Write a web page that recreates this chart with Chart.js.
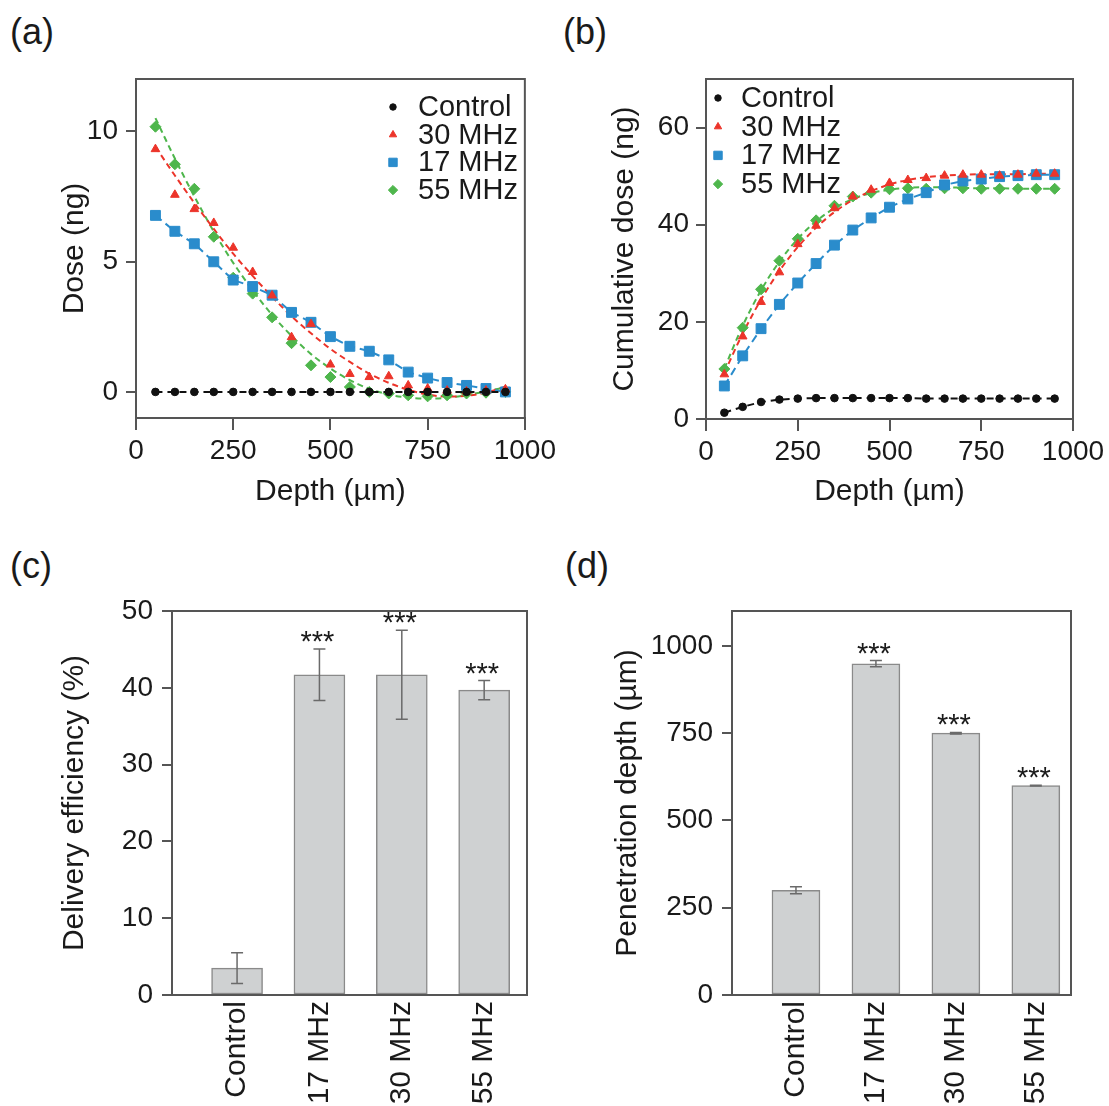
<!DOCTYPE html>
<html>
<head>
<meta charset="utf-8">
<script src="https://cdn.jsdelivr.net/npm/chart.js@4.4.1/dist/chart.umd.min.js"></script>
<style>
body { margin: 0; background: #fff; width: 1109px; height: 1106px; position: relative; overflow: hidden;
       font-family: "Liberation Sans", Arial, Helvetica, sans-serif; }
canvas { position: absolute; }
.lab { position: absolute; font-size: 36px; line-height: 1; color: #1a1a1a; }
</style>
</head>
<body>
<div class="lab" style="left:10px;top:14px">(a)</div>
<div class="lab" style="left:563px;top:14px">(b)</div>
<div class="lab" style="left:10px;top:548px">(c)</div>
<div class="lab" style="left:565px;top:548px">(d)</div>
<canvas id="cA" width="560" height="530" style="left:0;top:0"></canvas>
<canvas id="cB" width="549" height="530" style="left:560px;top:0"></canvas>
<canvas id="cC" width="560" height="566" style="left:0;top:540px"></canvas>
<canvas id="cD" width="549" height="566" style="left:560px;top:540px"></canvas>
<script>
// ---- data ----
const depth = [50, 100, 150, 200, 250, 300, 350, 400, 450, 500, 550, 600, 650, 700, 750, 800, 850, 900, 950];
const depthTicks = [0, 250, 500, 750, 1000];

// (a) dose per depth slice (ng)
const doseTicks = [0, 5, 10];
const doseControl = [0, 0, 0, 0, 0, 0, 0, 0, 0, 0, 0, 0, 0, 0, 0, 0, 0, 0, 0];
const dose30 = [9.31, 7.56, 7.01, 6.48, 5.53, 4.6, 3.7, 2.1, 2.6, 1.05, 0.69, 0.57, 0.6, 0.25, 0.13, 0.05, 0.02, 0.05, 0.1];
const dose17 = [6.77, 6.16, 5.68, 4.99, 4.29, 4.04, 3.71, 3.05, 2.67, 2.12, 1.75, 1.56, 1.23, 0.76, 0.53, 0.36, 0.25, 0.13, 0.0];
const dose55 = [10.17, 8.73, 7.79, 5.95, 4.38, 3.77, 2.86, 1.87, 1.02, 0.57, 0.19, 0.0, -0.06, -0.13, -0.17, -0.13, -0.06, -0.03, 0.0];
const doseFit30 = [9.4, 8.3, 7.25, 6.25, 5.3, 4.45, 3.65, 2.9, 2.25, 1.65, 1.15, 0.7, 0.35, 0.08, -0.1, -0.18, -0.15, -0.02, 0.2];
const doseFit55 = [10.5, 8.95, 7.5, 6.15, 4.95, 3.9, 2.95, 2.15, 1.45, 0.9, 0.45, 0.12, -0.1, -0.22, -0.26, -0.22, -0.12, 0.02, 0.18];

// (b) cumulative dose (ng)
const cumTicks = [0, 20, 40, 60];
const cumControl = [1.3, 2.5, 3.5, 4.0, 4.2, 4.3, 4.3, 4.3, 4.3, 4.3, 4.3, 4.2, 4.2, 4.2, 4.2, 4.2, 4.2, 4.2, 4.2];
const cum30 = [9.2, 17.0, 24.1, 30.2, 36.0, 39.8, 43.4, 45.8, 47.2, 48.6, 49.2, 49.6, 50.1, 50.3, 50.3, 50.1, 50.3, 50.5, 50.5];
const cum17 = [6.8, 13.0, 18.6, 23.6, 28.0, 32.0, 35.8, 38.9, 41.4, 43.6, 45.3, 46.6, 48.2, 49.0, 49.4, 49.9, 50.1, 50.3, 50.3];
const cum55 = [10.3, 18.8, 26.7, 32.6, 37.1, 40.9, 43.9, 45.8, 46.6, 47.3, 47.5, 47.4, 47.5, 47.5, 47.4, 47.4, 47.4, 47.4, 47.4];
const cumFit30 = [9.5, 17.6, 24.6, 30.5, 35.4, 39.4, 42.6, 45.1, 46.9, 48.3, 49.2, 49.8, 50.1, 50.3, 50.4, 50.4, 50.4, 50.5, 50.5];
const cumFit55 = [10.4, 19.2, 26.5, 32.4, 37.1, 40.7, 43.4, 45.3, 46.5, 47.2, 47.6, 47.7, 47.7, 47.6, 47.5, 47.5, 47.4, 47.4, 47.4];

// (c) and (d) bars
const groups = ["Control", "17 MHz", "30 MHz", "55 MHz"];
const effTicks = [0, 10, 20, 30, 40, 50];
const effMean = [3.5, 41.7, 41.7, 39.7];
const effErr = [2.0, 3.35, 5.8, 1.25];
const penTicks = [0, 250, 500, 750, 1000];
const penMean = [300, 949, 750, 600];
const penErr = [10, 9, 2, 1];
const signif = ["", "***", "***", "***"];

// ---- styling ----
const FONT = '"Liberation Sans", Arial, Helvetica, sans-serif';
const INK = "#1a1a1a";
const AXIS = "#555";
const RED = "rgb(236,52,42)";
const BLUE = "rgb(42,140,204)";
const GREEN = "rgb(78,182,76)";
const BLACK = "#111";

Chart.defaults.font.family = FONT;
Chart.defaults.color = INK;
Chart.defaults.animation = false;

function pts(ys) {
    return depth.map((d, i) => ({ x: d, y: ys[i] }));
}

// box around the plot area
const frame = {
    id: "frame",
    afterDraw(chart) {
        const a = chart.chartArea, ctx = chart.ctx;
        ctx.save();
        ctx.strokeStyle = AXIS;
        ctx.lineWidth = 2;
        ctx.strokeRect(a.left, a.top, a.right - a.left, a.bottom - a.top);
        ctx.restore();
    },
};

// legend drawn inside the plot
const inLegend = {
    id: "inLegend",
    afterDatasetsDraw(chart, args, opts) {
        if (!opts.items) return;
        const a = chart.chartArea, ctx = chart.ctx;
        ctx.save();
        ctx.font = "29px " + FONT;
        ctx.textBaseline = "middle";
        opts.items.forEach((it, i) => {
            const y = a.top + opts.top + i * opts.rowH;
            ctx.fillStyle = it.color;
            ctx.strokeStyle = it.color;
            Chart.helpers.drawPoint(ctx, { pointStyle: it.style, radius: it.r * 0.85, borderWidth: 1, rotation: 0 }, a.left + opts.markX, y);
            ctx.fillStyle = INK;
            ctx.fillText(it.label, a.left + opts.textX, y + 1);
        });
        ctx.restore();
    },
};

// error bars + significance stars for the bar panels
const errorBars = {
    id: "errorBars",
    afterDatasetsDraw(chart, args, opts) {
        if (!opts.err) return;
        const ctx = chart.ctx, xs = chart.scales.x, ys = chart.scales.y;
        const pts = chart.data.datasets[0].data;
        ctx.save();
        ctx.strokeStyle = "#6a6a6a";
        ctx.lineWidth = 1.5;
        ctx.fillStyle = INK;
        ctx.font = "29px " + FONT;
        ctx.textAlign = "center";
        ctx.textBaseline = "alphabetic";
        pts.forEach((p, i) => {
            const x = xs.getPixelForValue(p.x);
            const hi = ys.getPixelForValue(p.y + opts.err[i]);
            const lo = ys.getPixelForValue(p.y - opts.err[i]);
            ctx.beginPath();
            ctx.moveTo(x, hi); ctx.lineTo(x, lo);
            ctx.moveTo(x - 6, hi); ctx.lineTo(x + 6, hi);
            ctx.moveTo(x - 6, lo); ctx.lineTo(x + 6, lo);
            ctx.stroke();
            if (opts.sig[i]) ctx.fillText(opts.sig[i], x - 2, hi + 2);
        });
        ctx.restore();
    },
};

function axisOpts(o) {
    return {
        type: "linear",
        min: o.min,
        max: o.max,
        offset: false,
        afterBuildTicks: (s) => { s.ticks = o.ticks.map((v) => ({ value: v })); },
        afterFit: o.fit,
        grid: { drawOnChartArea: false, drawTicks: o.tickLen > 0, tickLength: o.tickLen, color: AXIS, lineWidth: 2, offset: false },
        border: { display: true, color: AXIS, width: 2 },
        ticks: Object.assign({ font: { size: o.tickSize }, padding: o.pad, color: INK, autoSkip: false,
            callback: (v) => String(v) }, o.tickExtra || {}),
        title: { display: true, text: o.title, font: { size: 30 }, color: INK, padding: o.titlePad },
    };
}

function lineSets(series) {
    const sets = [];
    series.forEach((s) => {
        sets.push({
            label: s.label,
            data: pts(s.values),
            showLine: !s.fit,
            borderDash: s.dash || [],
            borderWidth: 2,
            borderColor: s.color,
            backgroundColor: s.color,
            pointStyle: s.style,
            pointRadius: s.r,
            pointBorderWidth: 1,
            pointBorderColor: s.color,
            pointBackgroundColor: s.color,
        });
    });
    series.forEach((s) => {
        if (!s.fit) return;
        sets.push({
            label: s.label + " fit",
            data: pts(s.fit),
            showLine: true,
            pointRadius: 0,
            borderDash: [6, 4],
            borderWidth: 2,
            borderColor: s.color,
            cubicInterpolationMode: "monotone",
        });
    });
    return sets;
}

function lineChart(id, series, g) {
    return new Chart(document.getElementById(id), {
        type: "scatter",
        data: { datasets: lineSets(series) },
        options: {
            responsive: false,
            layout: { padding: { left: 0, top: g.top, right: g.right, bottom: 0 } },
            plugins: {
                legend: { display: false },
                tooltip: { enabled: false },
                inLegend: { items: series, markX: g.markX, textX: g.textX, top: g.legTop, rowH: g.rowH },
            },
            scales: {
                x: axisOpts({ min: 0, max: 1000, ticks: depthTicks, fit: (s) => { s.height = g.xh; },
                    tickLen: 12, tickSize: 28, pad: 4, title: "Depth (µm)", titlePad: { top: 0, bottom: 20 } }),
                y: axisOpts({ min: g.yMin, max: g.yMax, ticks: g.yTicks, fit: (s) => { s.width = g.yw; },
                    tickLen: 10, tickSize: 28, pad: g.yPad, title: g.yTitle, titlePad: { top: g.titleX, bottom: 0 } }),
            },
        },
        plugins: [frame, inLegend],
    });
}

function barChart(id, mean, err, g) {
    return new Chart(document.getElementById(id), {
        type: "bar",
        data: {
            datasets: [{
                data: groups.map((c, i) => ({ x: i, y: mean[i] })),
                backgroundColor: "#cfd1d2",
                borderColor: "#8a8a8a",
                borderWidth: 1.5,
                borderSkipped: false,
                barThickness: g.barW,
            }],
        },
        options: {
            responsive: false,
            layout: { padding: { left: 0, top: g.top, right: g.right, bottom: 0 } },
            plugins: {
                legend: { display: false },
                tooltip: { enabled: false },
                errorBars: { err: err, sig: signif },
            },
            scales: {
                x: axisOpts({ min: g.xMin, max: g.xMax, ticks: [0, 1, 2, 3], fit: (s) => { s.height = g.xh; },
                    tickLen: 0, tickSize: 30, pad: 6, title: "", titlePad: 0,
                    tickExtra: { minRotation: 90, maxRotation: 90, callback: (v) => groups[v] || "" } }),
                y: axisOpts({ min: 0, max: g.yMax, ticks: g.yTicks, fit: (s) => { s.width = g.yw; },
                    tickLen: 10, tickSize: 28, pad: 9, title: g.yTitle, titlePad: { top: g.titleX, bottom: 0 } }),
            },
        },
        plugins: [frame, errorBars],
    });
}

const seriesA = [
    { label: "Control", values: doseControl, color: BLACK, style: "circle", r: 3.8, dash: [7, 5] },
    { label: "30 MHz", values: dose30, color: RED, style: "triangle", r: 5, fit: doseFit30 },
    { label: "17 MHz", values: dose17, color: BLUE, style: "rect", r: 7, dash: [8, 5] },
    { label: "55 MHz", values: dose55, color: GREEN, style: "rectRot", r: 5.5, fit: doseFit55 },
];
const seriesB = [
    { label: "Control", values: cumControl, color: BLACK, style: "circle", r: 3.8, dash: [7, 5] },
    { label: "30 MHz", values: cum30, color: RED, style: "triangle", r: 5, fit: cumFit30 },
    { label: "17 MHz", values: cum17, color: BLUE, style: "rect", r: 7, dash: [8, 5] },
    { label: "55 MHz", values: cum55, color: GREEN, style: "rectRot", r: 5.5, fit: cumFit55 },
];

lineChart("cA", seriesA, {
    top: 79, right: 33, xh: 112, yw: 136, yMin: -1, yMax: 12, yTicks: doseTicks,
    yPad: 8, yTitle: "Dose (ng)", titleX: 57, markX: 257, textX: 282, legTop: 28, rowH: 27.7,
});
lineChart("cB", seriesB, {
    top: 79, right: 36, xh: 111, yw: 146, yMin: 0, yMax: 70, yTicks: cumTicks,
    yPad: 7, yTitle: "Cumulative dose (ng)", titleX: 47, markX: 12, textX: 35, legTop: 19, rowH: 28.7,
});
barChart("cC", effMean, effErr, {
    top: 71, right: 33, xh: 111, yw: 172, xMin: -0.79, xMax: 3.52, barW: 51,
    yMax: 50, yTicks: effTicks, yTitle: "Delivery efficiency (%)", titleX: 57,
});
barChart("cD", penMean, penErr, {
    top: 71, right: 38, xh: 111, yw: 172, xMin: -0.8, xMax: 3.44, barW: 48,
    yMax: 1100, yTicks: penTicks, yTitle: "Penetration depth (µm)", titleX: 50,
});
</script>
</body>
</html>
